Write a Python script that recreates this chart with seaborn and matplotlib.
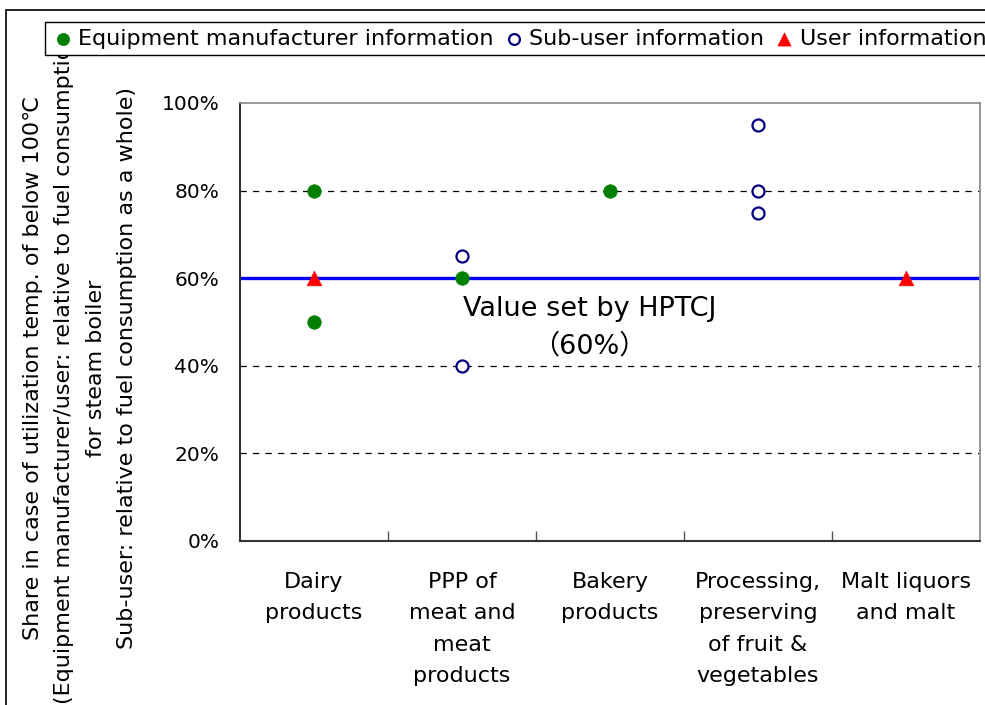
import numpy as np
import pandas as pd
import matplotlib
matplotlib.use("Agg")
import matplotlib.pyplot as plt
from matplotlib.patches import Rectangle
from matplotlib.ticker import FixedLocator, PercentFormatter
import seaborn as sns

# categories and points
categories = ["Dairy\nproducts", "PPP of\nmeat and\nmeat\nproducts", "Bakery\nproducts",
              "Processing,\npreserving\nof fruit &\nvegetables", "Malt liquors\nand malt"]
maker_cat = [0, 0, 1, 2]
maker_val = [80, 50, 60, 80]
subuser_cat = [1, 1, 3, 3, 3]
subuser_val = [65, 40, 95, 80, 75]
user_cat = [0, 4]
user_val = [60, 60]
hptcj_value = 60
yticks = [0, 20, 40, 60, 80, 100]

sns.set_style("white")
plt.rcParams["font.family"] = ["DejaVu Sans", "Noto Sans CJK JP"]
plt.rcParams["text.color"] = "black"
plt.rcParams["xtick.color"] = "black"
plt.rcParams["ytick.color"] = "black"

fig = plt.figure(figsize=(9.85, 7.05), dpi=100)
ax = fig.add_axes([240 / 985, 1 - 541 / 705, 740 / 985, 438 / 705])

df = pd.concat([
    pd.DataFrame({"x": maker_cat, "y": maker_val, "src": "Equipment manufacturer information"}),
    pd.DataFrame({"x": subuser_cat, "y": subuser_val, "src": "Sub-user information"}),
    pd.DataFrame({"x": user_cat, "y": user_val, "src": "User information"}),
])

for v in [20, 40, 80]:
    ax.axhline(v, color="black", lw=0.9, ls=(0, (5, 5)), zorder=1)
ax.axhline(hptcj_value, color="#0000FF", lw=2.4, zorder=2)

sns.scatterplot(data=df[df.src == "Equipment manufacturer information"], x="x", y="y", ax=ax,
                color="#008000", s=95, edgecolor="#008000", linewidth=0.5, zorder=3,
                label="Equipment manufacturer information")
sns.scatterplot(data=df[df.src == "Sub-user information"], x="x", y="y", ax=ax,
                facecolor="white", edgecolor="#000080", s=75, linewidth=1.6, zorder=3,
                label="Sub-user information")
sns.scatterplot(data=df[df.src == "User information"], x="x", y="y", ax=ax, marker="^",
                color="#FF0000", s=110, edgecolor="#FF0000", linewidth=0.5, zorder=3,
                label="User information")

ax.text(1.86, 48.7, "Value set by HPTCJ\n（60%）", ha="center", va="center", fontsize=19.5,
        linespacing=1.55, zorder=4)

ax.set_xlim(-0.5, 4.5)
ax.set_ylim(0, 100)
ax.set_xticks(range(len(categories)))
ax.set_xticklabels(categories, fontsize=16, linespacing=1.72)
ax.xaxis.set_minor_locator(FixedLocator([0.5, 1.5, 2.5, 3.5]))
ax.tick_params(axis="x", which="major", length=0, pad=22)
ax.tick_params(axis="x", which="minor", bottom=True, direction="in", length=7,
               color="#555555", width=1)
ax.set_yticks(yticks)
ax.yaxis.set_major_formatter(PercentFormatter(decimals=0))
ax.tick_params(axis="y", length=0, labelsize=14.5, pad=15)
ax.set_xlabel("")
ax.set_ylabel("")
for side in ["left", "bottom"]:
    ax.spines[side].set_color("#333333")
    ax.spines[side].set_linewidth(1.5)
for side in ["top", "right"]:
    ax.spines[side].set_color("#888888")
    ax.spines[side].set_linewidth(1.2)

handles, labels = ax.get_legend_handles_labels()
ax.get_legend().remove()
leg = fig.legend(handles, labels, loc="upper left", bbox_to_anchor=(45 / 985, 1 - 22 / 705),
                 ncol=3, fontsize=16, frameon=True, fancybox=False, edgecolor="black",
                 framealpha=1, handletextpad=0.2, columnspacing=0.4, borderpad=0.3,
                 handlelength=1.0, markerscale=0.9, borderaxespad=0)
leg.get_frame().set_linewidth(1.0)
leg.set_zorder(10)

fig.text(80 / 985, 1 - 368 / 705,
         "Share in case of utilization temp. of below 100℃\n"
         "(Equipment manufacturer/user: relative to fuel consumption\n"
         "for steam boiler\n"
         "Sub-user: relative to fuel consumption as a whole)",
         rotation=90, ha="center", va="center", multialignment="center",
         fontsize=16, linespacing=1.72, zorder=3)

fig.patches.append(Rectangle((6 / 985, -0.1), 1.2, 1.1 - 10 / 705, transform=fig.transFigure,
                             fill=False, edgecolor="black", lw=1.2, zorder=0))

fig.savefig("out.png", dpi=100)
